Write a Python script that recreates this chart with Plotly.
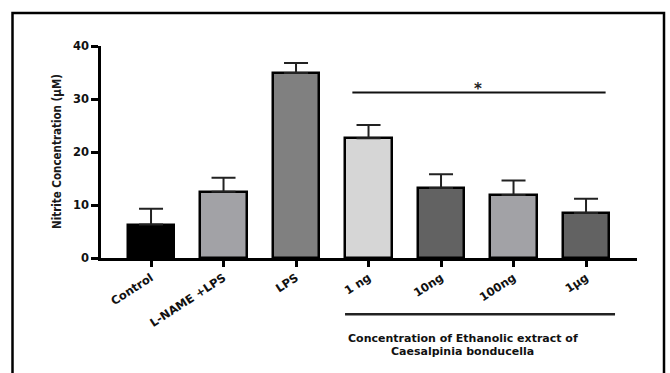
import plotly.graph_objects as go

# ---- data ----
categories = ["Control", "L-NAME +LPS", "LPS", "1 ng", "10ng", "100ng", "1µg"]
nitrite_mean = [6.3, 12.5, 34.9, 22.6, 13.2, 11.9, 8.5]
nitrite_sem = [3.0, 2.65, 1.9, 2.5, 2.6, 2.7, 2.7]
bar_colors = ["#000000", "#a2a2a6", "#808080", "#d6d6d6", "#626262", "#a2a2a6", "#626262"]
y_ticks = [0, 10, 20, 30, 40]
group_label_1 = "Concentration of Ethanolic extract of"
group_label_2 = "Caesalpinia bonducella"
sig_label = "*"

W, H = 670, 373
L, R, T, B = 101, 33, 46, 115
PW, PH = W - L - R, H - T - B


def px_x(px):
    return (px - L) / PW


def px_y(py):
    return (H - B - py) / PH


x_idx = list(range(len(categories)))

fig = go.Figure()
fig.add_trace(go.Bar(
    x=x_idx, y=nitrite_mean, width=0.64,
    marker=dict(color=bar_colors, line=dict(color="#000000", width=2.5)),
    error_y=dict(type="data", array=nitrite_sem, arrayminus=[0] * len(nitrite_sem),
                 symmetric=False, color="#222222", thickness=2, width=12),
    showlegend=False,
))

tick_font = dict(family="DejaVu Sans", size=11.5, color="#111111")

fig.update_layout(
    width=W, height=H,
    margin=dict(l=L, r=R, t=T, b=B, pad=0),
    paper_bgcolor="white", plot_bgcolor="white",
    bargap=0,
    xaxis=dict(
        range=[-0.69, 6.703], tickmode="array", tickvals=x_idx,
        ticktext=["<b>%s</b>" % c for c in categories],
        tickangle=-33, tickfont=tick_font,
        showline=True, linecolor="#000000", linewidth=2.5,
        ticks="outside", ticklen=6, tickwidth=2.5, tickcolor="#000000",
        showgrid=False, zeroline=False, fixedrange=True,
    ),
    yaxis=dict(
        range=[0, 40], tickmode="array", tickvals=y_ticks,
        ticktext=["<b>%d</b>" % v for v in y_ticks],
        tickfont=dict(family="DejaVu Sans", size=11.5, color="#111111"),
        showline=True, linecolor="#000000", linewidth=2.5,
        ticks="outside", ticklen=7, tickwidth=2.5, tickcolor="#000000",
        showgrid=False, zeroline=False, fixedrange=True,
    ),
)

shapes = []
# outer frame
shapes.append(dict(type="rect", xref="paper", yref="paper",
                   x0=px_x(12.5), x1=px_x(664), y0=px_y(385), y1=px_y(13),
                   line=dict(color="#000000", width=2.5), fillcolor="rgba(0,0,0,0)"))
# significance line
shapes.append(dict(type="line", xref="x", yref="y", x0=2.777, x1=6.27, y0=31.25, y1=31.25,
                   line=dict(color="#111111", width=2)))
# group bracket below axis
shapes.append(dict(type="line", xref="x", yref="paper", x0=2.676, x1=6.40,
                   y0=px_y(314.3), y1=px_y(314.3), line=dict(color="#222222", width=2.5)))
fig.update_layout(shapes=shapes)

annotations = [
    dict(text="<b>Nitrite Concentration (µM)</b>", xref="paper", yref="paper",
         x=px_x(57), y=px_y(152), textangle=-90, showarrow=False,
         xanchor="center", yanchor="middle",
         font=dict(family="DejaVu Sans Condensed, Liberation Sans, sans-serif", size=11.5,
                   color="#1a1a1a")),
    dict(text="<b>%s</b>" % sig_label, xref="x", yref="y", x=4.51, y=31.9,
         showarrow=False, xanchor="center", yanchor="middle",
         font=dict(family="DejaVu Sans", size=15, color="#222222")),
    dict(text="<b>%s</b>" % group_label_1, xref="x", yref="paper", x=4.297, y=px_y(338.5),
         showarrow=False, xanchor="center", yanchor="middle",
         font=dict(family="DejaVu Sans", size=11, color="#111111")),
    dict(text="<b>%s</b>" % group_label_2, xref="x", yref="paper", x=4.297, y=px_y(351.5),
         showarrow=False, xanchor="center", yanchor="middle",
         font=dict(family="DejaVu Sans", size=11, color="#111111")),
]
fig.update_layout(annotations=annotations)

fig.write_html("out.html")
